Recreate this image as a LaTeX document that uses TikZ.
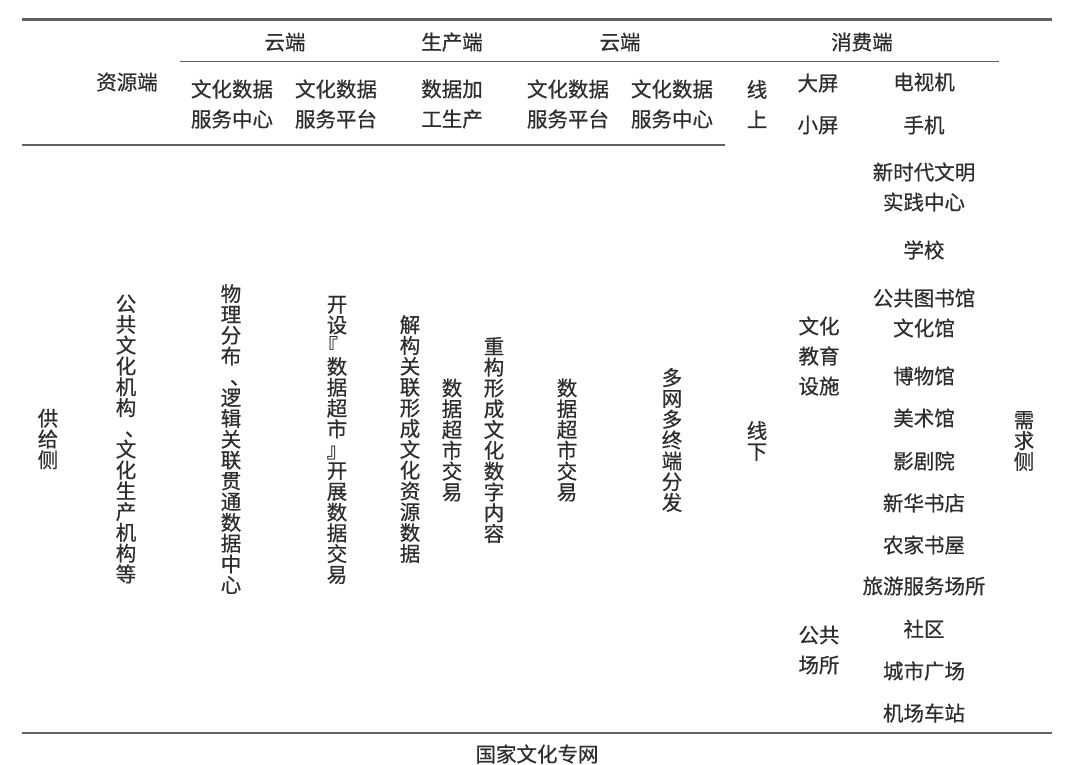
\documentclass[tikz,border=0pt]{standalone}
\usepackage{fontspec}
\newfontfamily\cjk[FakeBold=0.6]{Noto Sans CJK SC}

\tikzset{
	cell/.style={font=\cjk\fontsize{20.5}{30}\selectfont, text=black!82, inner sep=0pt, align=center},
	vcell/.style={font=\cjk\fontsize{20.5}{20.8}\selectfont, text=black!82, inner sep=0pt, align=center},
	rule/.style={draw=black!62, line width=2.2pt},
	subrule/.style={draw=black!62, line width=1.6pt},
}

\begin{document}
\begin{tikzpicture}[x=1pt, y=-1pt]
	\useasboundingbox (0,0) rectangle (1070,764);
	\coordinate (topL)	at (22,19.5);
	\coordinate (topR)	at (1052,19.5);
	\coordinate (midL)	at (180,61.5);
	\coordinate (midR)	at (999,61.5);
	\coordinate (headL)	at (22,145);
	\coordinate (headR)	at (725,145);
	\coordinate (botL)	at (22,733);
	\coordinate (botR)	at (1052,733);

	\draw[rule] (topL) -- (topR);
	\draw[subrule] (midL) -- (midR);
	\draw[subrule] (headL) -- (headR);
	\draw[rule] (botL) -- (botR);

	% header
	\node[cell]	(cloudA)	at (285,42)	{云端};
	\node[cell]	(prod)		at (452,42)	{生产端};
	\node[cell]	(cloudB)	at (620,42)	{云端};
	\node[cell]	(cons)		at (862,42)	{消费端};
	\node[cell]	(res)		at (127,82)	{资源端};
	\node[cell]	(centerA)	at (232,104)	{文化数据\\服务中心};
	\node[cell]	(platA)		at (336,104)	{文化数据\\服务平台};
	\node[cell]	(proc)		at (452,104)	{数据加\\工生产};
	\node[cell]	(platB)		at (568,104)	{文化数据\\服务平台};
	\node[cell]	(centerB)	at (672,104)	{文化数据\\服务中心};
	\node[cell]	(online)	at (757,104)	{线\\上};
	\node[cell]	(big)		at (818,83)	{大屏};
	\node[cell]	(small)		at (818,125)	{小屏};
	\node[cell]	(tv)		at (924,82)	{电视机};
	\node[cell]	(phone)		at (924,125)	{手机};

	% demand places
	\node[cell]	(civic)		at (924,187)	{新时代文明\\实践中心};
	\node[cell]	(school)	at (924,250)	{学校};
	\node[cell]	(library)	at (924,298)	{公共图书馆};
	\node[cell]	(culture)	at (924,328)	{文化馆};
	\node[cell]	(museum)	at (924,376)	{博物馆};
	\node[cell]	(gallery)	at (924,418)	{美术馆};
	\node[cell]	(theatre)	at (924,461)	{影剧院};
	\node[cell]	(bookshop)	at (924,503)	{新华书店};
	\node[cell]	(farm)		at (924,545)	{农家书屋};
	\node[cell]	(tour)		at (924,586)	{旅游服务场所};
	\node[cell]	(community)	at (924,629)	{社区};
	\node[cell]	(square)	at (924,671)	{城市广场};
	\node[cell]	(station)	at (924,713)	{机场车站};
	\node[cell]	(edu)		at (819,356)	{文化\\教育\\设施};
	\node[cell]	(public)	at (819,650)	{公共\\场所};

	% vertical columns
	\node[vcell]	(supply)	at (48,439)	{供\\给\\侧};
	\node[vcell]	(demand)	at (1024,441)	{需\\求\\侧};
	\node[vcell]	(inst)		at (126,439)	{公\\共\\文\\化\\机\\构\\\hspace*{0.9em}、\\文\\化\\生\\产\\机\\构\\等};
	\node[vcell]	(dc)		at (231,439)	{物\\理\\分\\布\\\hspace*{0.9em}、\\逻\\辑\\关\\联\\贯\\通\\数\\据\\中\\心};
	\node[vcell]	(market)	at (337,440)	{开\\设\\\makebox[1em]{\kern-0.9em『}\\数\\据\\超\\市\\』\\开\\展\\数\\据\\交\\易};
	\node[vcell]	(deconst)	at (410,439)	{解\\构\\关\\联\\形\\成\\文\\化\\资\\源\\数\\据};
	\node[vcell]	(tradeA)	at (452,440)	{数\\据\\超\\市\\交\\易};
	\node[vcell]	(reconst)	at (494,440)	{重\\构\\形\\成\\文\\化\\数\\字\\内\\容};
	\node[vcell]	(tradeB)	at (567,440)	{数\\据\\超\\市\\交\\易};
	\node[vcell]	(dist)		at (672,440)	{多\\网\\多\\终\\端\\分\\发};
	\node[vcell]	(offline)	at (757,441)	{线\\下};

	\node[cell]	(net)		at (537,754)	{国家文化专网};
\end{tikzpicture}
\end{document}
